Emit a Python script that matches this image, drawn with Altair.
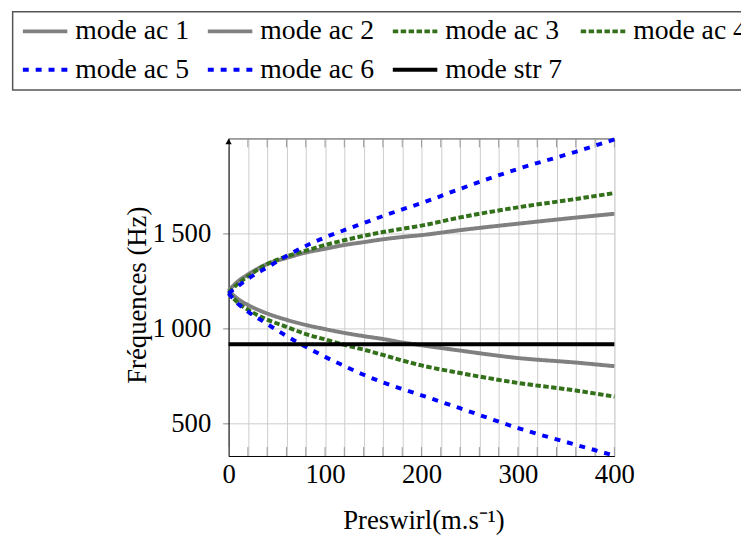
import altair as alt
import pandas as pd

# ---- data ----
preswirl = [0, 10, 20, 40, 60, 80, 100, 120, 140, 160, 180, 200, 240, 300, 360, 400]
mode_ac_1 = [1200, 1250, 1285, 1340, 1372, 1400, 1420, 1440, 1455, 1470, 1482, 1492, 1518, 1552, 1584, 1604]
mode_ac_2 = [1200, 1155, 1125, 1080, 1047, 1020, 998, 978, 961, 946, 928, 913, 885, 846, 822, 803]
mode_ac_3 = [1190, 1238, 1275, 1340, 1380, 1410, 1440, 1465, 1488, 1508, 1525, 1542, 1585, 1638, 1682, 1713]
mode_ac_4 = [1190, 1135, 1100, 1048, 1010, 972, 944, 915, 890, 862, 833, 807, 767, 715, 675, 643]
mode_ac_5 = [1185, 1225, 1262, 1322, 1382, 1435, 1480, 1518, 1555, 1592, 1627, 1660, 1735, 1840, 1930, 1995]
mode_ac_6 = [1185, 1130, 1090, 1025, 962, 905, 852, 804, 758, 718, 683, 650, 582, 478, 390, 333]
mode_str_7 = [918] * len(preswirl)

names = ["mode ac 1", "mode ac 2", "mode ac 3", "mode ac 4", "mode ac 5", "mode ac 6", "mode str 7"]
series = [mode_ac_1, mode_ac_2, mode_ac_3, mode_ac_4, mode_ac_5, mode_ac_6, mode_str_7]
colors = ["#808080", "#808080", "#32701a", "#32701a", "#0000ff", "#0000ff", "#000000"]
dashes = [[1, 0], [1, 0], [5.5, 2.5], [5.5, 2.5], [6, 7], [6, 7], [1, 0]]
widths = [4, 4, 4.5, 4.5, 6, 6, 5]

x_ticks = list(range(0, 401, 20))
y_ticks = [500, 1000, 1500]

rows = []
for n, s in zip(names, series):
    for xv, yv in zip(preswirl, s):
        rows.append({"mode": n, "x": xv, "f": yv})
df = pd.DataFrame(rows)
ticks_df = pd.DataFrame({"t": x_ticks})

W, H = 390, 321
FONT = "Liberation Serif"
LEGEND_FONT = "Times New Roman, Liberation Serif, serif"

legend = alt.Legend(
    title=None, orient="none", legendX=-210, legendY=-133, columns=4,
    direction="horizontal", symbolType="stroke", symbolSize=2025,
    symbolOffset=0,
    labelFont=LEGEND_FONT, labelFontSize=28, labelColor="black", labelOffset=6,
    labelFontWeight="normal", labelFontStyle="normal",
    columnPadding=10, rowPadding=0, padding=0,
)

xscale = alt.Scale(domain=[0, 400], nice=False, zero=False)

lines = alt.Chart(df).mark_line(strokeCap="butt", interpolate="monotone").encode(
    x=alt.X("x:Q", scale=xscale, axis=alt.Axis(
        values=x_ticks, labelExpr="datum.value % 100 === 0 ? datum.label : ''",
        ticks=False, grid=True, gridColor="#cccccc", domainColor="black",
        labelFlush=False, labelOverlap=False, labelPadding=6,
        labelFont=FONT, labelFontSize=27, labelColor="black",
        title="Preswirl(m.s⁻¹)", titleFont=FONT, titleFontSize=27,
        titleFontWeight="normal", titleColor="black",
        titleX=197, titleY=73, titleBaseline="alphabetic")),
    y=alt.Y("f:Q", scale=alt.Scale(domain=[331, 2000], nice=False, zero=False), axis=alt.Axis(
        values=y_ticks, labelExpr="replace(format(datum.value, ','), ',', '\u2009')",
        grid=True, gridColor="#cccccc", domainColor="black",
        tickColor="#888888", tickSize=6, labelPadding=12,
        labelFont=FONT, labelFontSize=27, labelColor="black",
        title="Fréquences (Hz)", titleFont=FONT, titleFontSize=27,
        titleFontWeight="normal", titleColor="black",
        titleAngle=270, titleX=-92, titleY=158, titleBaseline="middle", titleAlign="center")),
    color=alt.Color("mode:N", scale=alt.Scale(domain=names, range=colors), legend=legend),
    strokeDash=alt.StrokeDash("mode:N", scale=alt.Scale(domain=names, range=dashes), legend=legend),
    strokeWidth=alt.StrokeWidth("mode:N", scale=alt.Scale(domain=names, range=widths), legend=legend),
)

bottom_ticks = alt.Chart(ticks_df).mark_rule(color="#999999", strokeWidth=1).encode(
    x=alt.X("t:Q", scale=xscale, axis=None),
    y=alt.value(H - 9), y2=alt.value(H),
)

top_ticks = alt.Chart(ticks_df).mark_rule(color="#999999", strokeWidth=1).encode(
    x=alt.X("t:Q", scale=xscale, axis=alt.Axis(
        orient="top", labels=False, ticks=False, grid=False, title=None,
        domainColor="#555555")),
    y=alt.value(0), y2=alt.value(9),
)

arrow = alt.Chart(pd.DataFrame({"a": [0]})).mark_point(
    shape="triangle-up", filled=True, size=40, color="black", opacity=1
).encode(x=alt.value(0), y=alt.value(3))

legend_box = alt.Chart(pd.DataFrame({"a": [0]})).mark_rect(
    fillOpacity=0, stroke="#555555", strokeWidth=1.5
).encode(x=alt.value(-218.3), x2=alt.value(540), y=alt.value(-128), y2=alt.value(-49))

chart = alt.layer(bottom_ticks, top_ticks, lines, arrow, legend_box).resolve_axis(
    x="independent"
).properties(
    width=W, height=H,
    autosize=alt.AutoSizeParams(type="none"),
    padding={"left": 223, "top": 129, "right": 128, "bottom": 78},
).configure_view(strokeWidth=0).configure_legend(
    labelFont=LEGEND_FONT, labelFontSize=28, labelColor="black"
).configure(
    background="white", font=FONT,
    style={"guide-label": {"font": FONT}, "guide-title": {"font": FONT}},
)

chart.save("out.html", embed_options={"renderer": "svg", "actions": False})
